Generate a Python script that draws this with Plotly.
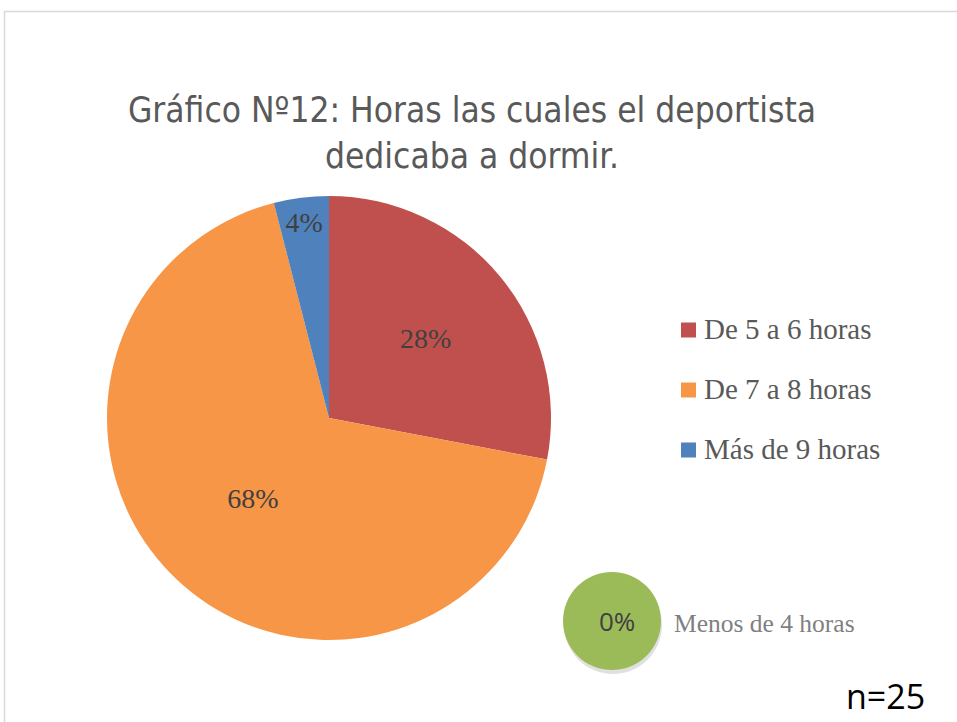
import plotly.graph_objects as go

categories = ["De 5 a 6 horas", "De 7 a 8 horas", "Más de 9 horas"]
counts = [7, 17, 1]
colors = ["#C0504D", "#F79646", "#4F81BD"]
extra_category = "Menos de 4 horas"
extra_count = 0
extra_color = "#9BBB59"
n_total = 25
title_text = "Gráfico Nº12: Horas las cuales el deportista<br>dedicaba a dormir."

W, H = 957, 722
SERIF = "Liberation Serif, DejaVu Serif, serif"
SANS = "Open Sans, Liberation Sans, sans-serif"

fig = go.Figure()
fig.add_trace(go.Pie(
    labels=categories,
    values=counts,
    sort=False,
    direction="clockwise",
    rotation=0,
    marker=dict(colors=colors, line=dict(width=0)),
    texttemplate="%{percent:.0%}",
    textposition="inside",
    insidetextorientation="horizontal",
    textfont=dict(family=SERIF, size=28, color="#404040"),
    domain=dict(x=[107 / W, 551 / W], y=[1 - 640 / H, 1 - 196 / H]),
    showlegend=False,
    hoverinfo="label+percent",
))

shapes = []
annotations = []

# chart border
shapes.append(dict(type="rect", xref="paper", yref="paper",
                   x0=4.5 / W, x1=1.2, y0=-0.2, y1=1 - 11.5 / H,
                   line=dict(color="#D9D9D9", width=1.5), fillcolor="rgba(0,0,0,0)"))

# manual legend
leg_y = [330, 390, 450]
for cat, col, y in zip(categories, colors, leg_y):
    shapes.append(dict(type="rect", xref="paper", yref="paper",
                       x0=681 / W, x1=696 / W, y0=1 - (y + 7.5) / H, y1=1 - (y - 7.5) / H,
                       line=dict(width=0), fillcolor=col))
    annotations.append(dict(text=cat, xref="paper", yref="paper", x=702 / W, y=1 - (y - 1) / H,
                            xanchor="left", yanchor="middle", showarrow=False,
                            font=dict(family=SERIF, size=29, color="#595959")))

# green zero bubble with shadow
cx, cy, r = 612, 621, 49
shapes.append(dict(type="circle", xref="paper", yref="paper",
                   x0=(cx - r + 1) / W, x1=(cx + r + 1) / W, y0=1 - (cy + r + 4) / H, y1=1 - (cy - r + 4) / H,
                   line=dict(width=0), fillcolor="rgba(0,0,0,0.12)"))
shapes.append(dict(type="circle", xref="paper", yref="paper",
                   x0=(cx - r) / W, x1=(cx + r) / W, y0=1 - (cy + r) / H, y1=1 - (cy - r) / H,
                   line=dict(width=0), fillcolor=extra_color))
annotations.append(dict(text=f"{extra_count / n_total:.0%}", xref="paper", yref="paper",
                        x=(cx + 5) / W, y=1 - cy / H, xanchor="center", yanchor="middle", showarrow=False,
                        font=dict(family=SANS, size=26, color="#404040")))
annotations.append(dict(text=extra_category, xref="paper", yref="paper", x=672 / W, y=1 - 623 / H,
                        xanchor="left", yanchor="middle", showarrow=False,
                        font=dict(family=SERIF, size=25.5, color="#7F7F7F")))

# n annotation
annotations.append(dict(text=f"n={n_total}", xref="paper", yref="paper", x=927 / W, y=1 - 696 / H,
                        xanchor="right", yanchor="middle", showarrow=False,
                        font=dict(family=SANS, size=34, color="#000000")))

fig.update_layout(
    width=W, height=H,
    margin=dict(l=0, r=0, t=0, b=0),
    paper_bgcolor="white",
    plot_bgcolor="white",
    title=dict(text=title_text, x=472 / W, xanchor="center", y=1 - 122 / H, yanchor="middle",
               font=dict(family="Liberation Sans Narrow, DejaVu Sans Condensed, sans-serif", size=35, color="#595959")),
    shapes=shapes,
    annotations=annotations,
)

fig.write_html("out.html",
               config={"displayModeBar": False},
               post_script="document.body.style.margin='0';document.body.style.padding='0';document.body.style.overflow='hidden';")
